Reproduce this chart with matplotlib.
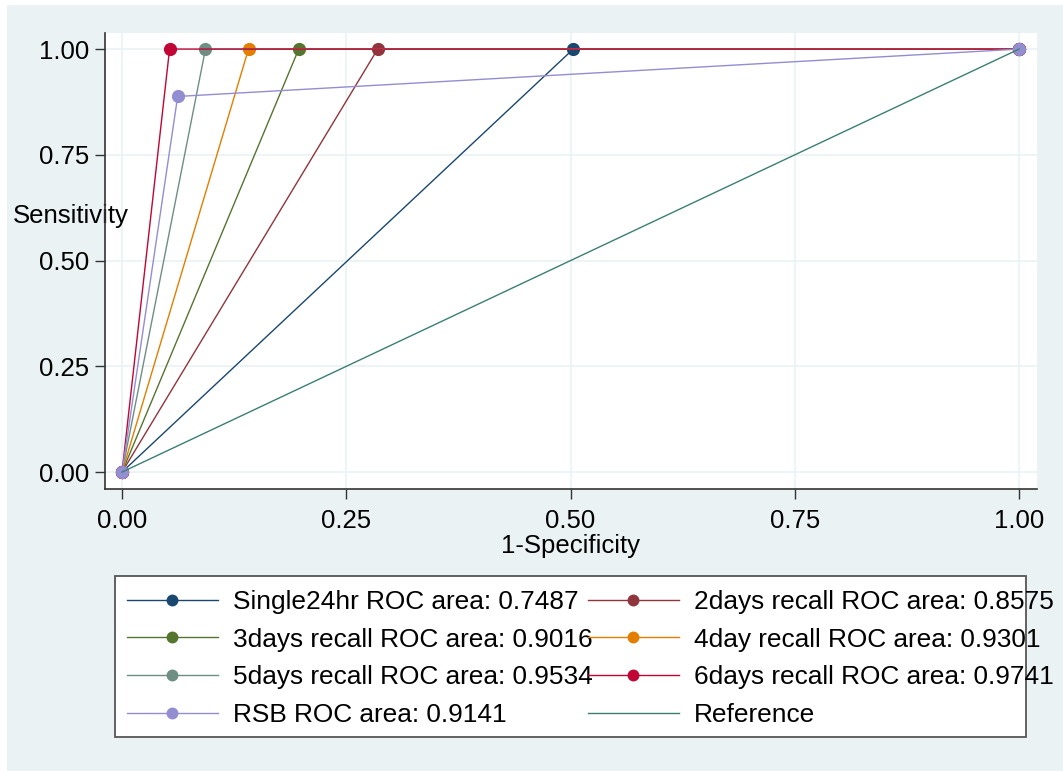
import matplotlib
matplotlib.use("Agg")
import matplotlib.pyplot as plt
from matplotlib.patches import Rectangle

plt.rcParams['font.family'] = ['Liberation Sans', 'DejaVu Sans']

# ROC points (1-specificity, sensitivity) for each recall method
names = ['Single24hr', '2days recall', '3days recall', '4day recall',
         '5days recall', '6days recall', 'RSB']
areas = [0.7487, 0.8575, 0.9016, 0.9301, 0.9534, 0.9741, 0.9141]
fpr = [[0, 0.503, 1], [0, 0.285, 1], [0, 0.197, 1], [0, 0.141, 1],
       [0, 0.093, 1], [0, 0.053, 1], [0, 0.062, 1]]
tpr = [[0, 1, 1], [0, 1, 1], [0, 1, 1], [0, 1, 1],
       [0, 1, 1], [0, 1, 1], [0, 0.888, 1]]
ref_x = [0, 1]
ref_y = [0, 1]
ticks = [0, 0.25, 0.5, 0.75, 1.0]

colors = ['#1a476f', '#90353b', '#55752f', '#e37e00',
          '#6e8e84', '#c10534', '#938dd2']
ref_color = '#3b7f72'
bg = '#eaf2f3'

fig = plt.figure(figsize=(10.63, 7.71), dpi=100, facecolor=bg)
# thin white margin on the left/top like the exported image
fig.patches.append(Rectangle((0, 0), 7 / 1063, 1, transform=fig.transFigure,
                             facecolor='white', edgecolor='none', zorder=-1))
fig.patches.append(Rectangle((0, 1 - 5 / 771), 1, 5 / 771, transform=fig.transFigure,
                             facecolor='white', edgecolor='none', zorder=-1))

ax = fig.add_axes([105 / 1063, 1 - 489 / 771, 932 / 1063, 456 / 771])
ax.set_facecolor('white')

handles = []
for i in range(len(names)):
    h, = ax.plot(fpr[i], tpr[i], '-o', color=colors[i], lw=1.0,
                 markersize=9.5, markeredgewidth=0, zorder=3 + i,
                 label=f'{names[i]} ROC area: {areas[i]:.4f}')
    handles.append(h)
h, = ax.plot(ref_x, ref_y, '-', color=ref_color, lw=1.0, zorder=20,
             label='Reference')
handles.append(h)

ax.set_xlim(-0.019, 1.020)
ax.set_ylim(-0.040, 1.038)
ax.set_xticks(ticks)
ax.set_yticks(ticks)
ax.set_xticklabels([f'{t:.2f}' for t in ticks])
ax.set_yticklabels([f'{t:.2f}' for t in ticks])
ax.tick_params(axis='both', labelsize=18.5, length=7.2, width=1.0, color='#333333')
ax.tick_params(axis='x', pad=7)
ax.tick_params(axis='y', pad=4)
ax.grid(True, color=bg, lw=1.2, zorder=0)
ax.set_axisbelow(True)

for s in ['top', 'right']:
    ax.spines[s].set_visible(False)
for s in ['left', 'bottom']:
    ax.spines[s].set_color('#333333')
    ax.spines[s].set_linewidth(1.2)

ax.set_xlabel('1-Specificity', fontsize=18.5, va='center')
ax.xaxis.set_label_coords(0.499, -0.125)
ax.set_ylabel('Sensitivity', fontsize=18.5, rotation=0, ha='center', va='center')
ax.yaxis.set_label_coords(-0.0365, 0.599)

# legend frame (text is allowed to run past it, as in the original)
fig.patches.append(Rectangle((115 / 1063, 1 - 737 / 771), 911 / 1063, 161 / 771,
                             transform=fig.transFigure, facecolor='white',
                             edgecolor='#555555', lw=1.3, zorder=1))

col1 = [handles[k] for k in (0, 2, 4, 6)]
col2 = [handles[k] for k in (1, 3, 5, 7)]
top = 1 - 590 / 771
for hs, x0 in ((col1, 127 / 1063), (col2, 588 / 1063)):
    leg = fig.legend(handles=hs, loc='upper left', bbox_to_anchor=(x0, top),
                     frameon=False, fontsize=18.9, borderpad=0, borderaxespad=0,
                     handlelength=3.45, handletextpad=0.6, labelspacing=0.52,
                     markerscale=0.9)
    leg.set_zorder(5)

fig.savefig('out.png', dpi=100, facecolor=bg)
